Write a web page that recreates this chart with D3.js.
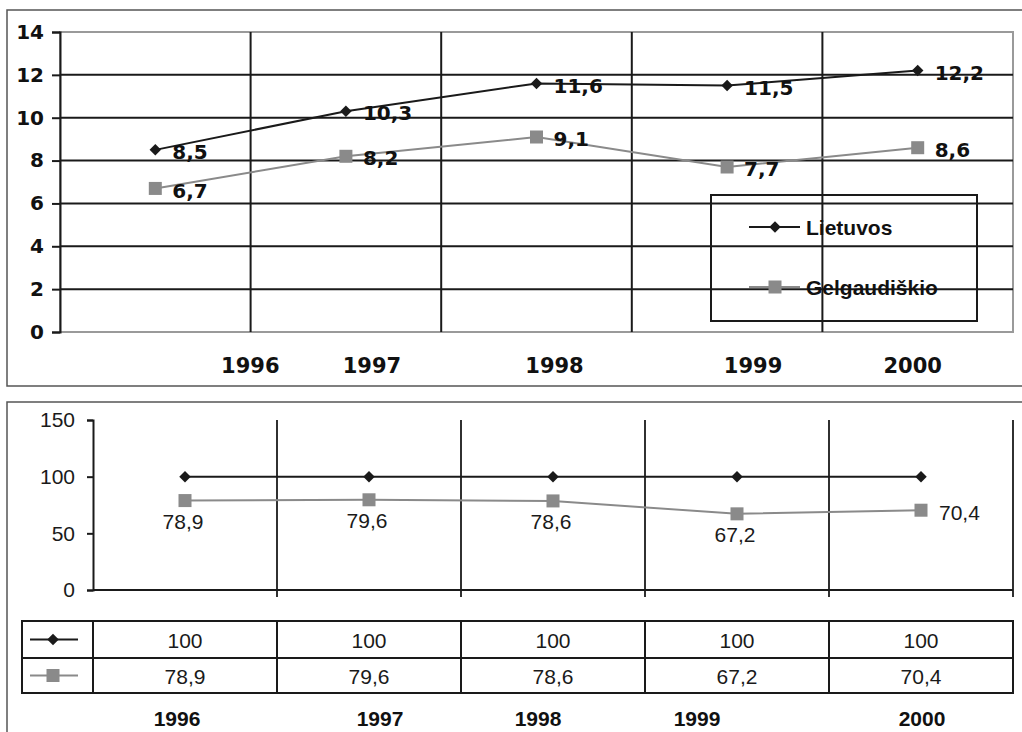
<!DOCTYPE html>
<html><head><meta charset="utf-8">
<script src="https://cdn.jsdelivr.net/npm/d3@7"></script>
<style>
html,body{margin:0;padding:0;background:#fff;}
svg{display:block;}
</style></head>
<body>
<svg id="chart" width="1022" height="732"></svg>
<script>
// ---------- data ----------
const years = ["1996", "1997", "1998", "1999", "2000"];
const seriesNames = ["Lietuvos", "Gelgaudiškio"];
const lietuvos = [8.5, 10.3, 11.6, 11.5, 12.2];
const gelgaudiskio = [6.7, 8.2, 9.1, 7.7, 8.6];
const lietuvosIdx = [100, 100, 100, 100, 100];
const gelgaudiskioIdx = [78.9, 79.6, 78.6, 67.2, 70.4];
const topTicks = [0, 2, 4, 6, 8, 10, 12, 14];
const bottomTicks = [0, 50, 100, 150];

// ---------- setup ----------
const svg = d3.select("#chart");
const loc = d3.formatLocale({decimal: ",", thousands: " ", grouping: [3], currency: ["", ""]});
const fmt1 = loc.format(".1f");
const fmtI = v => (Number.isInteger(v) ? String(v) : fmt1(v));
const DARK = "#1a1a1a", GRAY = "#8a8a8a", BORDER = "#555";

function drawDiamond(g, x, y) {
  g.append("path").attr("d", d3.symbol().type(d3.symbolSquare).size(66)())
    .attr("transform", `translate(${x},${y}) rotate(45)`).attr("fill", DARK);
}
function drawSquare(g, x, y, s) {
  g.append("rect").attr("x", x - s/2).attr("y", y - s/2).attr("width", s).attr("height", s).attr("fill", GRAY);
}

// ================= TOP PANEL =================
const T = svg.append("g");
T.append("path").attr("d", "M1024,10 H7 V386 H1024").attr("fill", "none").attr("stroke", BORDER).attr("stroke-width", 1.5);

const xT = d3.scaleBand().domain(years).range([60, 1013]).padding(0);
const yT = d3.scaleLinear().domain([0, 14]).range([332, 32]);

T.append("rect").attr("x", 60).attr("y", yT(14)).attr("width", 1013 - 60).attr("height", yT(0) - yT(14))
  .attr("fill", "none").attr("stroke", "#9a9a9a").attr("stroke-width", 2);
T.selectAll(".hg").data(topTicks.filter(t => t > 0 && t < 14)).join("line")
  .attr("x1", 60).attr("x2", 1013).attr("y1", d => yT(d)).attr("y2", d => yT(d))
  .attr("stroke", DARK).attr("stroke-width", 2);
T.selectAll(".vg").data(years.slice(1)).join("line")
  .attr("x1", d => xT(d)).attr("x2", d => xT(d)).attr("y1", yT(14)).attr("y2", yT(0))
  .attr("stroke", DARK).attr("stroke-width", 2);
const yAxT = d3.axisLeft(yT).tickValues(topTicks).tickSize(8).tickPadding(10).tickFormat(d3.format("d"));
T.append("g").attr("transform", "translate(60,0)").call(yAxT)
  .call(g => { g.select(".domain").attr("stroke", DARK).attr("stroke-width", 2);
    g.selectAll(".tick line").attr("stroke", DARK).attr("stroke-width", 2);
    g.selectAll(".tick text").attr("fill", "#111").attr("font-family", "DejaVu Sans").attr("font-weight", "bold").attr("font-size", 20).attr("dx", 2); });
const topYearNudge = [95, 26, 18, 26, -5];
T.selectAll(".xl").data(years).join("text")
  .attr("x", (d, i) => xT(d) + xT.bandwidth()/2 + topYearNudge[i]).attr("y", 373)
  .attr("text-anchor", "middle").attr("font-family", "DejaVu Sans").attr("font-weight", "bold").attr("font-size", 21).attr("fill", "#111")
  .text(d => d);

const lineT = d3.line().x((d, i) => xT(years[i]) + xT.bandwidth()/2).y(d => yT(d));
T.append("path").datum(gelgaudiskio).attr("d", lineT).attr("fill", "none").attr("stroke", GRAY).attr("stroke-width", 2);
T.append("path").datum(lietuvos).attr("d", lineT).attr("fill", "none").attr("stroke", DARK).attr("stroke-width", 2);
gelgaudiskio.forEach((v, i) => drawSquare(T, xT(years[i]) + xT.bandwidth()/2, yT(v), 13));
lietuvos.forEach((v, i) => drawDiamond(T, xT(years[i]) + xT.bandwidth()/2, yT(v)));
[lietuvos, gelgaudiskio].forEach(arr => {
  T.selectAll(null).data(arr).join("text")
    .attr("x", (d, i) => xT(years[i]) + xT.bandwidth()/2 + 17).attr("y", d => yT(d) + 2).attr("dy", "0.36em")
    .attr("font-family", "DejaVu Sans").attr("font-weight", "bold").attr("font-size", 20).attr("fill", "#111")
    .text(d => fmt1(d));
});
const L = T.append("g");
L.append("rect").attr("x", 711).attr("y", 195).attr("width", 266).attr("height", 126)
  .attr("fill", "none").attr("stroke", DARK).attr("stroke-width", 2);
[[227, DARK], [287, GRAY]].forEach(([ly, c], i) => {
  L.append("line").attr("x1", 749).attr("x2", 800).attr("y1", ly).attr("y2", ly).attr("stroke", c).attr("stroke-width", 2);
  if (i === 0) drawDiamond(L, 775, ly); else drawSquare(L, 775, ly, 13);
  L.append("text").attr("x", 806).attr("y", ly).attr("dy", "0.36em")
    .attr("font-family", "Liberation Sans, Arial").attr("font-weight", "bold").attr("font-size", 21).attr("fill", "#111")
    .text(seriesNames[i]);
});

// ================= BOTTOM PANEL =================
const B = svg.append("g");
B.append("path").attr("d", "M1024,402 H7 V740").attr("fill", "none").attr("stroke", BORDER).attr("stroke-width", 1.5);

const xB = d3.scaleBand().domain(years).range([93, 1013]).padding(0);
const yB = d3.scaleLinear().domain([0, 150]).range([590, 420]);
const bounds = years.slice(1).map(d => xB(d)).concat([1013]);

B.selectAll(".vg").data(bounds).join("line")
  .attr("x1", d => d).attr("x2", d => d).attr("y1", yB(150)).attr("y2", yB(0) + 7)
  .attr("stroke", DARK).attr("stroke-width", 1.8);
const yAxB = d3.axisLeft(yB).tickValues(bottomTicks).tickSize(6).tickPadding(12).tickFormat(d3.format("d"));
B.append("g").attr("transform", "translate(93,0)").call(yAxB)
  .call(g => { g.select(".domain").attr("stroke", DARK).attr("stroke-width", 2);
    g.selectAll(".tick line").attr("stroke", DARK).attr("stroke-width", 2);
    g.selectAll(".tick text").attr("fill", "#1a1a1a").attr("font-family", "Liberation Sans, Arial").attr("font-size", 21); });
B.append("line").attr("x1", 93).attr("x2", 1013).attr("y1", yB(0)).attr("y2", yB(0)).attr("stroke", DARK).attr("stroke-width", 2);

const lineB = d3.line().x((d, i) => xB(years[i]) + xB.bandwidth()/2).y(d => yB(d));
B.append("path").datum(gelgaudiskioIdx).attr("d", lineB).attr("fill", "none").attr("stroke", GRAY).attr("stroke-width", 2);
B.append("path").datum(lietuvosIdx).attr("d", lineB).attr("fill", "none").attr("stroke", DARK).attr("stroke-width", 2);
gelgaudiskioIdx.forEach((v, i) => drawSquare(B, xB(years[i]) + xB.bandwidth()/2, yB(v), 13));
lietuvosIdx.forEach((v, i) => drawDiamond(B, xB(years[i]) + xB.bandwidth()/2, yB(v)));
B.selectAll(".dl").data(gelgaudiskioIdx).join("text")
  .attr("x", (d, i) => xB(years[i]) + xB.bandwidth()/2 + (i === years.length - 1 ? 18 : -2))
  .attr("y", (d, i) => yB(d) + (i === years.length - 1 ? 2 : 21)).attr("dy", "0.36em")
  .attr("text-anchor", (d, i) => i === years.length - 1 ? "start" : "middle")
  .attr("font-family", "Liberation Sans, Arial").attr("font-size", 21).attr("fill", "#1a1a1a")
  .text(d => fmt1(d));

const tTop = 621, tMid = 658, tBot = 693, tLeft = 22;
const TB = B.append("g");
TB.append("rect").attr("x", tLeft).attr("y", tTop).attr("width", 1013 - tLeft).attr("height", tBot - tTop)
  .attr("fill", "none").attr("stroke", DARK).attr("stroke-width", 2);
TB.append("line").attr("x1", tLeft).attr("x2", 1013).attr("y1", tMid).attr("y2", tMid).attr("stroke", DARK).attr("stroke-width", 2);
TB.selectAll(".cd").data([93].concat(years.slice(1).map(d => xB(d)))).join("line")
  .attr("x1", d => d).attr("x2", d => d).attr("y1", tTop).attr("y2", tBot).attr("stroke", DARK).attr("stroke-width", 2);
[[lietuvosIdx, (tTop + tMid)/2, DARK], [gelgaudiskioIdx, (tMid + tBot)/2, GRAY]].forEach(([arr, ry, c], r) => {
  TB.append("line").attr("x1", 30).attr("x2", 78).attr("y1", ry).attr("y2", ry).attr("stroke", c).attr("stroke-width", 2);
  if (r === 0) drawDiamond(TB, 53, ry); else drawSquare(TB, 53, ry, 13);
  TB.selectAll(null).data(arr).join("text")
    .attr("x", (d, i) => xB(years[i]) + xB.bandwidth()/2).attr("y", ry + 1).attr("dy", "0.36em")
    .attr("text-anchor", "middle").attr("font-family", "Liberation Sans, Arial").attr("font-size", 21).attr("fill", "#1a1a1a")
    .text(d => fmtI(d));
});
const botYearNudge = [-8, 11, -15, -40, 1];
B.selectAll(".by").data(years).join("text")
  .attr("x", (d, i) => xB(d) + xB.bandwidth()/2 + botYearNudge[i]).attr("y", 726)
  .attr("text-anchor", "middle").attr("font-family", "Liberation Sans, Arial").attr("font-weight", "bold").attr("font-size", 21).attr("fill", "#111")
  .text(d => d);
</script>
</body></html>
